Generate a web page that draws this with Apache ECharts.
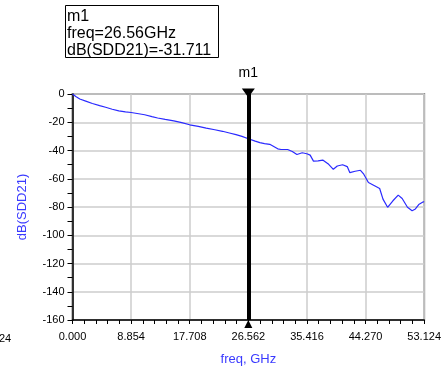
<!DOCTYPE html>
<html><head><meta charset="utf-8">
<script src="https://cdn.jsdelivr.net/npm/echarts@6/dist/echarts.min.js"></script>
<style>html,body{margin:0;padding:0;background:#fff}#c{width:444px;height:371px}</style>
</head><body><div id="c"></div>
<script>
const freq = [0, 0.5, 1.1, 2, 3, 4.1, 5, 6, 7, 8, 8.854, 10, 10.9, 12, 12.86, 14, 15.3, 16.5, 17.7, 19, 20.2, 21.5, 22.66, 23.7, 24.7, 25.6, 26.562, 27.6, 28.3, 29.0, 29.8, 30.4, 31.0, 31.5, 32.5, 33.2, 33.9, 34.7, 35.4, 35.9, 36.4, 37.1, 37.8, 38.7, 39.4, 40.0, 40.8, 41.5, 41.9, 42.7, 43.5, 44.0, 44.7, 45.7, 46.4, 46.9, 47.6, 48.4, 49.2, 49.8, 50.6, 51.3, 51.8, 52.3, 53.0, 53.124];
const sdd21 = [0, -1.8, -3.5, -5, -6.7, -8.2, -9.4, -10.8, -11.9, -12.7, -13.1, -14, -14.7, -16, -17, -18, -19, -20.3, -21.8, -22.9, -24.1, -25.3, -26.4, -27.6, -28.8, -30, -31.711, -33.4, -34.4, -35.1, -35.6, -37.2, -38.8, -39.3, -39.3, -40.7, -42.8, -41.6, -42.3, -43.3, -47.5, -47.3, -46.8, -49.8, -53.3, -51.0, -50.1, -51.4, -55.7, -54.7, -54.0, -56.8, -62.7, -65.1, -66.9, -74.4, -80.2, -75.6, -71.6, -74.0, -80.2, -82.6, -81.4, -78.3, -76.3, -76.5];
const xTicks = [0, 8.854, 17.708, 26.562, 35.416, 44.270, 53.124];
const markerFreq = 26.562;
const markerLines = ['m1', 'freq=26.56GHz', 'dB(SDD21)=-31.711'];

const data = freq.map((f, i) => [f, sdd21[i]]);
const chart = echarts.init(document.getElementById('c'), null, {renderer: 'canvas'});
const FONT = 'Liberation Sans';
chart.setOption({
  animation: false,
  backgroundColor: '#fff',
  textStyle: {fontFamily: FONT},
  grid: {left: 72.5, top: 94, right: 10, bottom: 49, show: true, borderColor: '#8a8a8a', borderWidth: 2},
  xAxis: {
    type: 'value', min: 0, max: 53.124, interval: 8.854,
    name: 'freq, GHz', nameLocation: 'middle', nameGap: 33,
    nameTextStyle: {color: '#3a3aff', fontSize: 13, fontFamily: FONT},
    axisLine: {onZero: false, lineStyle: {color: '#000', width: 1.5}},
    axisTick: {show: true, length: 4, lineStyle: {color: '#000'}},
    minorTick: {show: true, splitNumber: 5, length: 4, lineStyle: {color: '#000'}},
    axisLabel: {color: '#000', fontSize: 11, margin: 11, fontFamily: FONT,
      formatter: v => v.toFixed(3)},
    splitLine: {show: true, lineStyle: {color: '#cccccc', width: 1.5}}
  },
  yAxis: {
    type: 'value', min: -160, max: 0, interval: 20,
    name: 'dB(SDD21)', nameLocation: 'middle', nameGap: 44, nameRotate: 90,
    nameTextStyle: {color: '#3a3aff', fontSize: 13, fontFamily: FONT},
    axisLine: {onZero: false, lineStyle: {color: '#000', width: 1.5}},
    axisTick: {show: true, length: 5, lineStyle: {color: '#000'}},
    minorTick: {show: true, splitNumber: 2, length: 5, lineStyle: {color: '#000'}},
    axisLabel: {color: '#000', fontSize: 11, margin: 8, fontFamily: FONT},
    splitLine: {show: true, lineStyle: {color: '#cccccc', width: 1.5}}
  },
  series: [{
    type: 'line', data: data, showSymbol: false, smooth: false,
    lineStyle: {color: '#2a2aff', width: 1.2},
    markLine: {
      silent: true, symbol: 'none',
      lineStyle: {color: '#000', width: 4, type: 'solid'},
      label: {show: false},
      data: [{xAxis: markerFreq}]
    },
    markPoint: {
      silent: true,
      data: [
        {coord: [markerFreq, 0], symbol: 'triangle', symbolRotate: 180, symbolSize: [13, 9], symbolOffset: [0, -1],
         itemStyle: {color: '#000'},
         label: {show: true, formatter: markerLines[0], position: 'top', distance: 8, color: '#000', fontSize: 14, fontFamily: FONT}},
        {coord: [markerFreq, -160], symbol: 'triangle', symbolSize: [8, 8], symbolOffset: [0, 4],
         itemStyle: {color: '#000'}, label: {show: false}}
      ]
    }
  }],
  graphic: [
    {type: 'rect', shape: {x: 65.5, y: 5.5, width: 153, height: 52}, style: {fill: '#fff', stroke: '#000', lineWidth: 1}},
    {type: 'text', x: 67, y: 9, style: {text: markerLines[0], font: '16px "Liberation Sans"', fill: '#000'}},
    {type: 'text', x: 67, y: 26, style: {text: markerLines[1], font: '16px "Liberation Sans"', fill: '#000'}},
    {type: 'text', x: 67, y: 43, style: {text: markerLines[2], font: '16px "Liberation Sans"', fill: '#000'}},
    {type: 'text', x: -1, y: 333, style: {text: '24', font: '11px "Liberation Sans"', fill: '#000'}}
  ]
});
</script></body></html>
